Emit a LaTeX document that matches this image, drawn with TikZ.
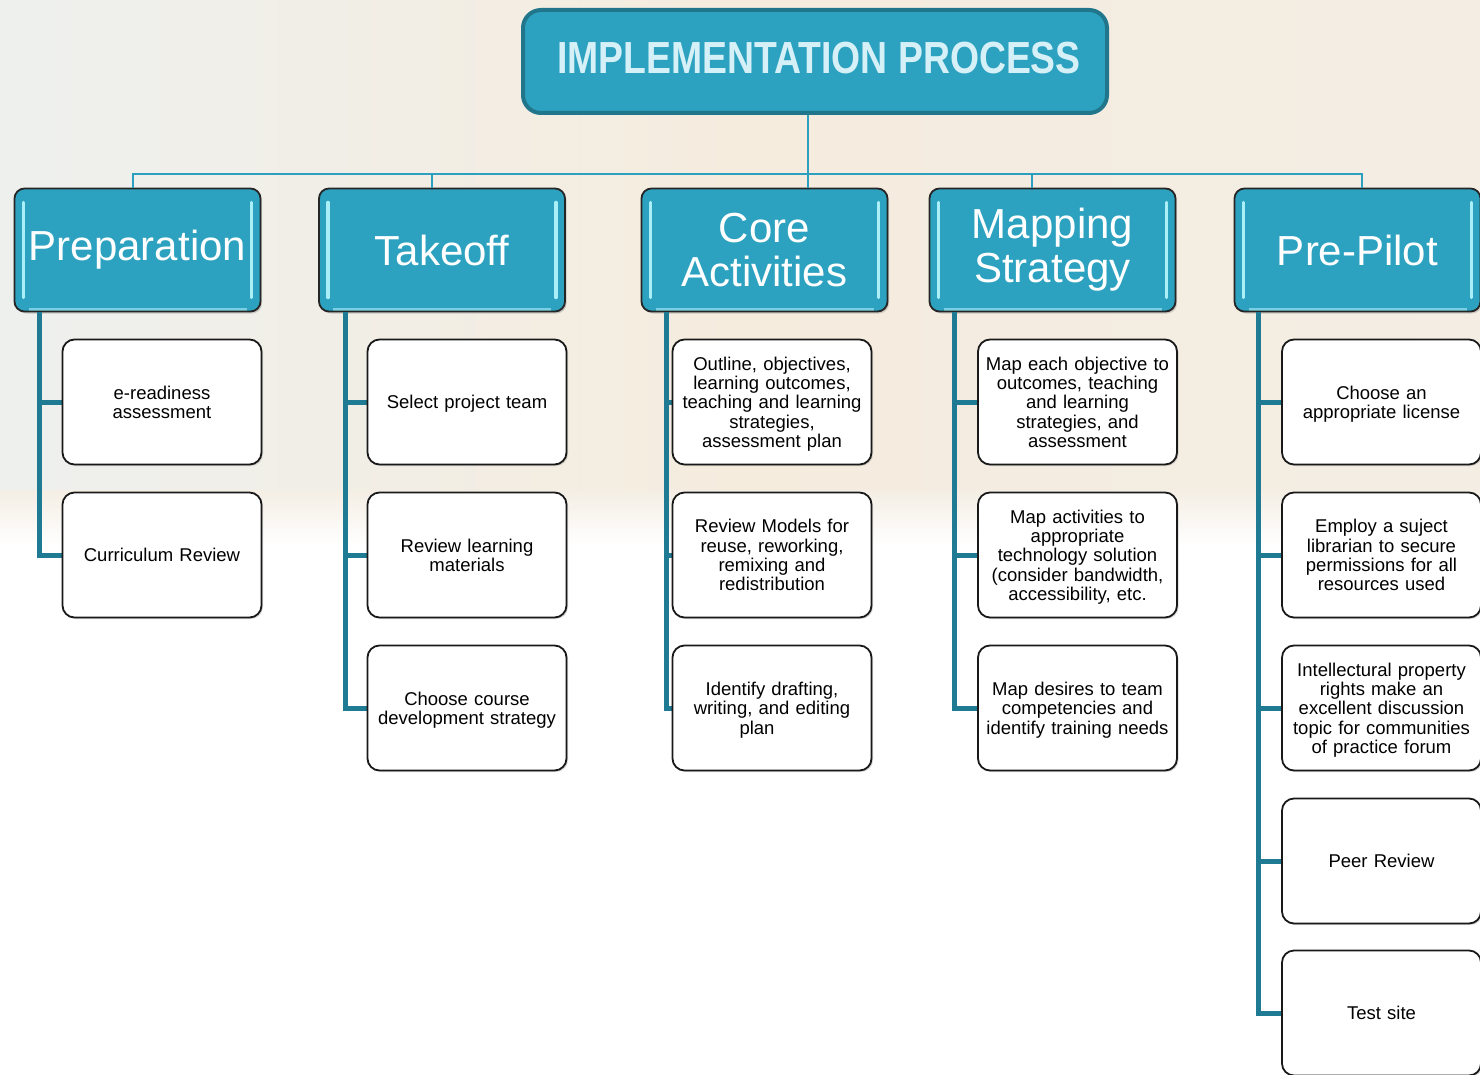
\documentclass[tikz,border=0pt]{standalone}
\usepackage{fontspec}
\setmainfont{Liberation Sans}
\usetikzlibrary{shadows}
\definecolor{catblue}{RGB}{44,162,192}
\definecolor{topborder}{RGB}{33,118,140}
\definecolor{titletext}{RGB}{214,240,248}
\definecolor{trunkcol}{RGB}{31,122,147}
\definecolor{linkcol}{RGB}{44,160,190}
\definecolor{hlcol}{RGB}{170,238,248}
\definecolor{bgleft}{RGB}{238,240,238}
\definecolor{bgmid}{RGB}{245,236,222}
\definecolor{bgright}{RGB}{243,237,228}
\definecolor{bgfade}{RGB}{244,238,228}
\tikzset{
  titlebox/.style={draw=topborder, line width=4pt, rounded corners=18pt, fill=catblue,
    minimum width=584pt, minimum height=103pt, inner sep=0pt, text=titletext,
    font=\bfseries\fontsize{45}{50}\selectfont},
  catbox/.style={draw=black!85, line width=1.8pt, rounded corners=10pt, fill=catblue,
    minimum width=246pt, minimum height=123pt, inner sep=0pt, align=center, text=white,
    font=\fontsize{42}{44}\selectfont,
    drop shadow={shadow xshift=1.5pt, shadow yshift=-2pt, opacity=0.35},
    path picture={
      \draw[hlcol, line width=3.5pt, line cap=round]
        ([shift={(9pt,-14pt)}]path picture bounding box.north west) --
        ([shift={(9pt,14pt)}]path picture bounding box.south west);
      \draw[hlcol, line width=3.5pt, line cap=round]
        ([shift={(-9pt,-14pt)}]path picture bounding box.north east) --
        ([shift={(-9pt,14pt)}]path picture bounding box.south east);
      \draw[hlcol!60!catblue, line width=3pt]
        ([shift={(14pt,2pt)}]path picture bounding box.south west) --
        ([shift={(-14pt,2pt)}]path picture bounding box.south east);
    }},
  leafbox/.style={draw=black!90, line width=1.8pt, rounded corners=12pt, fill=white,
    minimum width=199pt, minimum height=125pt, inner sep=0pt, text width=199pt,
    align=center, text=black, font=\fontsize{18.5}{19.3}\selectfont,
    execute at begin node={\rule{0pt}{19.5pt}}, execute at end node=\strut,
    drop shadow={shadow xshift=1.5pt, shadow yshift=-1.5pt, opacity=0.3}},
  trunk/.style={draw=trunkcol, line width=5pt},
  link/.style={draw=linkcol, line width=1.8pt}
}
\begin{document}
\begin{tikzpicture}[x=1pt,y=-1pt]
\useasboundingbox (0,0) rectangle (1480,1075);
% background
\fill[white] (0,0) rectangle (1480,1075);
\shade[left color=bgleft, right color=bgright, middle color=bgmid] (0,0) rectangle (1480,490);
\shade[top color=bgfade, bottom color=white] (0,490) rectangle (1480,545);

% title
\node[titlebox] (top) at (815,61.5) {\hspace*{8pt}\raisebox{7pt}{\scalebox{0.83}[1]{IMPLEMENTATION PROCESS}}};

% categories
\node[catbox] (prep) at (137.5,250) {Preparation};
\node[catbox] (take) at (442,250) {Takeoff};
\node[catbox] (core) at (764.5,250) {Core\\Activities};
\node[catbox] (mapp) at (1052.5,250) {Mapping\\Strategy};
\node[catbox] (pilot) at (1357.5,250) {Pre-Pilot};

% top connectors
\coordinate (bus) at (808,174);
\draw[link] ([xshift=-7pt]top.south) -- (bus);
\draw[link] (bus) -| ([xshift=-4.5pt]prep.north);
\draw[link] (bus) -| ([xshift=-10pt]take.north);
\draw[link] (bus) -| ([xshift=43.5pt]core.north);
\draw[link] (bus) -| ([xshift=-20.5pt]mapp.north);
\draw[link] (bus) -| ([xshift=4.5pt]pilot.north);

% trunk coordinates
\coordinate (tprep) at ([xshift=26pt,yshift=0.9pt]prep.south west);
\coordinate (ttake) at ([xshift=27pt,yshift=0.9pt]take.south west);
\coordinate (tcore) at ([xshift=26pt,yshift=0.9pt]core.south west);
\coordinate (tmapp) at ([xshift=26pt,yshift=0.9pt]mapp.south west);
\coordinate (tpilot) at ([xshift=25pt,yshift=0.9pt]pilot.south west);

% trunks (drawn first, under the boxes)
\path[trunk] (tprep) |- (162,555);
\path[trunk] (tprep |- 162,402) -- (162,402);
\path[trunk] (ttake) |- (467,708);
\path[trunk] (ttake |- 467,402) -- (467,402);
\path[trunk] (ttake |- 467,555) -- (467,555);
\path[trunk] (tcore) |- (772,708);
\path[trunk] (tcore |- 772,402) -- (772,402);
\path[trunk] (tcore |- 772,555) -- (772,555);
\path[trunk] (tmapp) |- (1077.5,708);
\path[trunk] (tmapp |- 1077.5,402) -- (1077.5,402);
\path[trunk] (tmapp |- 1077.5,555) -- (1077.5,555);
\path[trunk] (tpilot) |- (1381.5,1013);
\foreach \yy in {402,555,708,861} {\path[trunk] (tpilot |- 1381.5,\yy) -- (1381.5,\yy);}

% leaves
\node[leafbox] (p1) at (162,402) {e-readiness\\assessment};
\node[leafbox] (p2) at (162,555) {Curriculum Review};

\node[leafbox] (t1) at (467,402) {Select project team};
\node[leafbox] (t2) at (467,555) {Review learning\\materials};
\node[leafbox] (t3) at (467,708) {Choose course\\development strategy};

\node[leafbox] (c1) at (772,402) {Outline, objectives,\\learning outcomes,\\teaching and learning\\strategies,\\assessment plan};
\node[leafbox] (c2) at (772,555) {Review Models for\\reuse, reworking,\\remixing and\\redistribution};
\node[leafbox] (c3) at (772,708) {Identify drafting,\\writing, and editing\\plan\hspace*{30pt}};

\node[leafbox] (m1) at (1077.5,402) {Map each objective to\\outcomes, teaching\\and learning\\strategies, and\\assessment};
\node[leafbox] (m2) at (1077.5,555) {Map activities to\\appropriate\\technology solution\\(consider bandwidth,\\accessibility, etc.};
\node[leafbox] (m3) at (1077.5,708) {Map desires to team\\competencies and\\identify training needs};

\node[leafbox] (r1) at (1381.5,402) {Choose an\\appropriate license};
\node[leafbox] (r2) at (1381.5,555) {Employ a suject\\librarian to secure\\permissions for all\\resources used};
\node[leafbox] (r3) at (1381.5,708) {Intellectural property\\rights make an\\excellent discussion\\topic for communities\\of practice forum};
\node[leafbox] (r4) at (1381.5,861) {Peer Review};
\node[leafbox] (r5) at (1381.5,1013) {Test site};
\end{tikzpicture}
\end{document}
